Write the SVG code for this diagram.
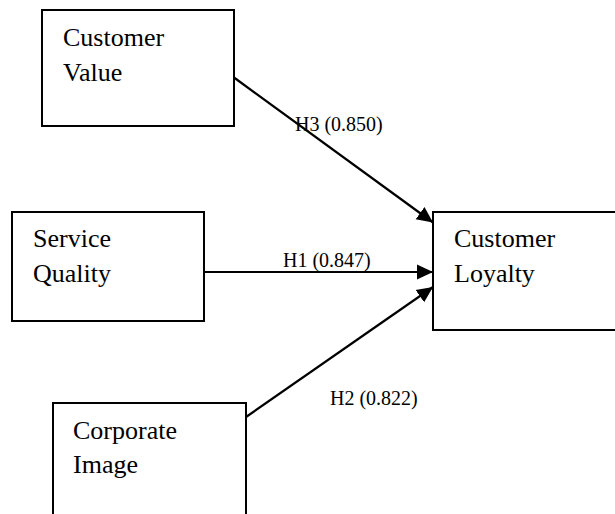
<svg xmlns="http://www.w3.org/2000/svg" width="615" height="514" viewBox="0 0 615 514">
<style>
.box{fill:#fff;stroke:#000;stroke-width:2}
text{font-family:'Liberation Serif','Times New Roman',Times,serif;fill:#000}
.t{font-size:26px}
.lbl{font-size:20px}
.edge{stroke:#000;stroke-width:2.2;fill:none;marker-end:url(#ah)}
</style>
<defs>
<marker id="ah" markerUnits="userSpaceOnUse" markerWidth="18" markerHeight="16" refX="16" refY="7.5" orient="auto" viewBox="0 0 18 15">
<path d="M0,0 L16,7.5 L0,15 Z" fill="#000"/>
</marker>
</defs>
<rect width="615" height="514" fill="#fff"/>
<g id="connectors">
<line class="edge" x1="234" y1="77.5" x2="433" y2="222.5"/>
<line class="edge" x1="204" y1="272" x2="433" y2="272"/>
<line class="edge" x1="246" y1="417" x2="433" y2="287"/>
<text class="lbl" x="295" y="131" font-family="Liberation Serif, serif">H3 (0.850)</text>
<text class="lbl" x="283" y="267" font-family="Liberation Serif, serif">H1 (0.847)</text>
<text class="lbl" x="330" y="405" font-family="Liberation Serif, serif">H2 (0.822)</text>
</g>
<g id="customer-value">
<rect class="box" x="42" y="10" width="192" height="116"/>
<text class="t" x="63" y="46" font-family="Liberation Serif, serif">Customer</text>
<text class="t" x="63" y="81" font-family="Liberation Serif, serif">Value</text>
</g>
<g id="service-quality">
<rect class="box" x="12" y="212" width="192" height="109"/>
<text class="t" x="33" y="247" font-family="Liberation Serif, serif">Service</text>
<text class="t" x="33" y="282" font-family="Liberation Serif, serif">Quality</text>
</g>
<g id="customer-loyalty">
<rect class="box" x="433" y="212" width="200" height="118"/>
<text class="t" x="454" y="247" font-family="Liberation Serif, serif">Customer</text>
<text class="t" x="454" y="282" font-family="Liberation Serif, serif">Loyalty</text>
</g>
<g id="corporate-image">
<rect class="box" x="53" y="403" width="193" height="130"/>
<text class="t" x="73" y="439" font-family="Liberation Serif, serif">Corporate</text>
<text class="t" x="73" y="473" font-family="Liberation Serif, serif">Image</text>
</g>
</svg>
